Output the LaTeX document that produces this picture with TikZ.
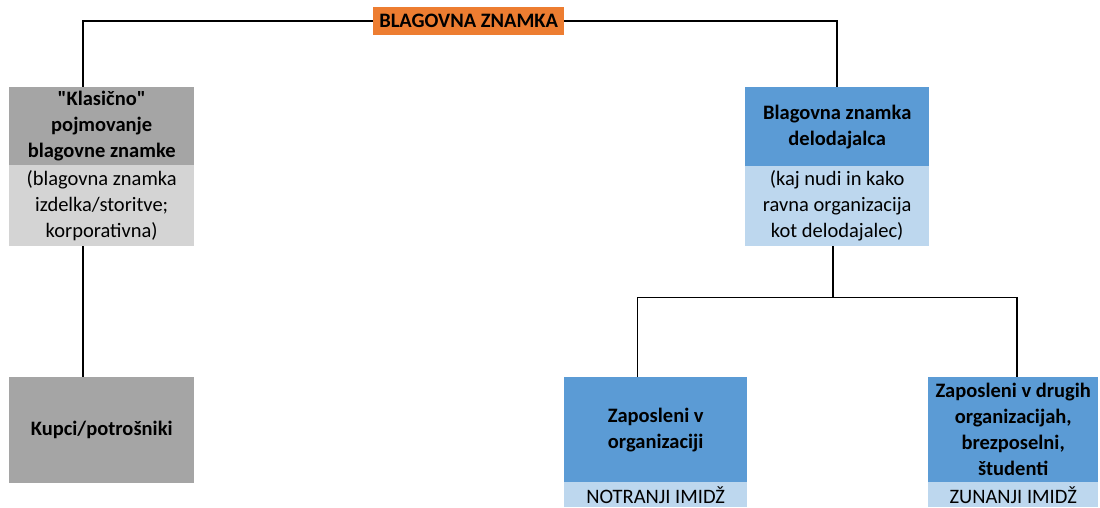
\documentclass[tikz,border=0pt]{standalone}
\usepackage{fontspec}
% plain family: no TeX ligature mapping, so " stays a straight quote
\newfontfamily\calib{Carlito}
\definecolor{brandorange}{HTML}{ED7D31}
\definecolor{greydark}{HTML}{A5A5A5}
\definecolor{greylight}{HTML}{D4D4D4}
\definecolor{bluedark}{HTML}{5B9BD5}
\definecolor{bluelight}{HTML}{BDD7EE}
\begin{document}
\begin{tikzpicture}[x=1pt,y=1pt,
  box/.style={inner sep=0pt, anchor=north west, align=center,
    font=\calib\fontsize{20.5}{26}\selectfont},
  head/.style={box, font=\calib\fontsize{20.5}{26}\selectfont\bfseries},
  link/.style={line width=1.5pt, black}]
\useasboundingbox (0,0) rectangle (1100,-507);
\fill[white] (0,0) rectangle (1100,-507);

% title
\node[head, fill=brandorange, minimum width=191, minimum height=28] (brand) at (373,-7) {BLAGOVNA ZNAMKA};

% classic brand column
\node[head, fill=greydark, minimum width=185, minimum height=78] (klas) at (9,-87) {"Klasično"\\pojmovanje\\blagovne znamke};
\node[box, fill=greylight, minimum width=185, minimum height=81] (klasl) at (9,-165) {(blagovna znamka\\izdelka/storitve;\\korporativna)};
\node[head, fill=greydark, minimum width=185, minimum height=106] (kupci) at (9,-377) {Kupci/potrošniki};

% employer brand column
\node[head, fill=bluedark, minimum width=184, minimum height=79] (delo) at (745,-87) {Blagovna znamka\\delodajalca};
\node[box, fill=bluelight, minimum width=184, minimum height=80] (delol) at (745,-166) {(kaj nudi in kako\\ravna organizacija\\kot delodajalec)};
\node[head, fill=bluedark, minimum width=183, minimum height=105] (notr) at (564,-377) {Zaposleni v\\organizaciji};
\node[box, fill=bluelight, minimum width=183, minimum height=25] (notrl) at (564,-482) {NOTRANJI IMIDŽ};
\node[head, fill=bluedark, minimum width=170, minimum height=105] (zun) at (928,-377) {Zaposleni v drugih\\organizacijah,\\brezposelni,\\študenti};
\node[box, fill=bluelight, minimum width=170, minimum height=25] (zunl) at (928,-482) {ZUNANJI IMIDŽ};

% connectors
\draw[link] (brand.west) -| ([xshift=-18.5]klas.north);
\draw[link] (brand.east) -| (delo.north);
\draw[link] ([xshift=-18.5]klasl.south) -- ([xshift=-18.5]kupci.north);
\draw[link] ([xshift=-4]delol.south) -- ++(0,-51) coordinate (fork);
\draw[link] ([xshift=-18]notr.north) |- (fork) -| ([xshift=4]zun.north);
\end{tikzpicture}
\end{document}
